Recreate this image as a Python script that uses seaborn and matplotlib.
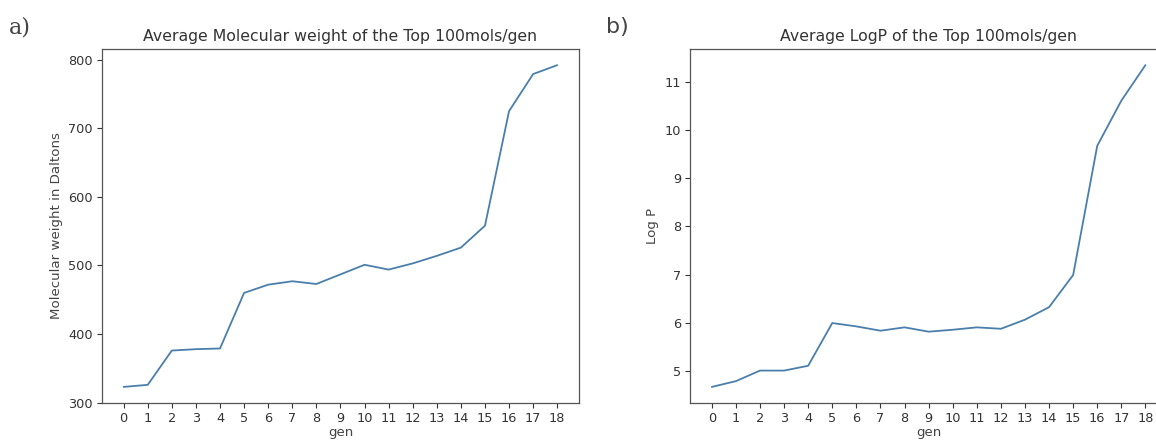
import pandas as pd
import seaborn as sns
import matplotlib
matplotlib.use('Agg')
import matplotlib.pyplot as plt


gens = list(range(19))
mol_weight = [323, 326, 376, 378, 379, 460, 472, 477, 473, 487, 501, 494, 503, 514, 526, 558, 725, 779, 792]
log_p = [4.66, 4.78, 5.0, 5.0, 5.1, 5.99, 5.92, 5.83, 5.9, 5.81, 5.85, 5.9, 5.87, 6.06, 6.32, 6.99, 9.68, 10.62, 11.36]

line_color = '#4a7fab'

df = pd.DataFrame({'gen': gens, 'mw': mol_weight, 'logp': log_p})

sns.set_style('ticks')
plt.rcParams['font.family'] = ['DejaVu Sans']

fig = plt.figure(figsize=(11.56, 4.43), dpi=100)
ax1 = fig.add_axes([0.0882, 0.0903, 0.4126, 0.799])
ax2 = fig.add_axes([0.597, 0.0903, 0.4126, 0.799])

sns.lineplot(data=df, x='gen', y='mw', ax=ax1, color=line_color, linewidth=1.3)
ax1.set_title('Average Molecular weight of the Top 100mols/gen', fontsize=11.3, color='#333333')
ax1.set_ylabel('Molecular weight in Daltons', fontsize=9.6, color='#444444')
ax1.set_xlabel('gen', fontsize=9.6, color='#444444', labelpad=1)
ax1.set_yticks([300, 400, 500, 600, 700, 800])

sns.lineplot(data=df, x='gen', y='logp', ax=ax2, color=line_color, linewidth=1.3)
ax2.set_title('Average LogP of the Top 100mols/gen', fontsize=11.3, color='#333333')
ax2.set_ylabel('Log P', fontsize=9.6, color='#444444')
ax2.set_xlabel('gen', fontsize=9.6, color='#444444', labelpad=1)
ax2.set_yticks([5, 6, 7, 8, 9, 10, 11])

for ax in (ax1, ax2):
    ax.set_xticks(gens)
    ax.tick_params(labelsize=9.3, colors='#333333', length=3.5, pad=3)
    for s in ax.spines.values():
        s.set_visible(True)
        s.set_color('#555555')
        s.set_linewidth(0.9)

fig.text(0.008, 0.925, 'a)', fontsize=16, family='DejaVu Serif', color='#444444')
fig.text(0.524, 0.925, 'b)', fontsize=16, family='DejaVu Sans', color='#444444')

fig.savefig('out.png', dpi=100)
